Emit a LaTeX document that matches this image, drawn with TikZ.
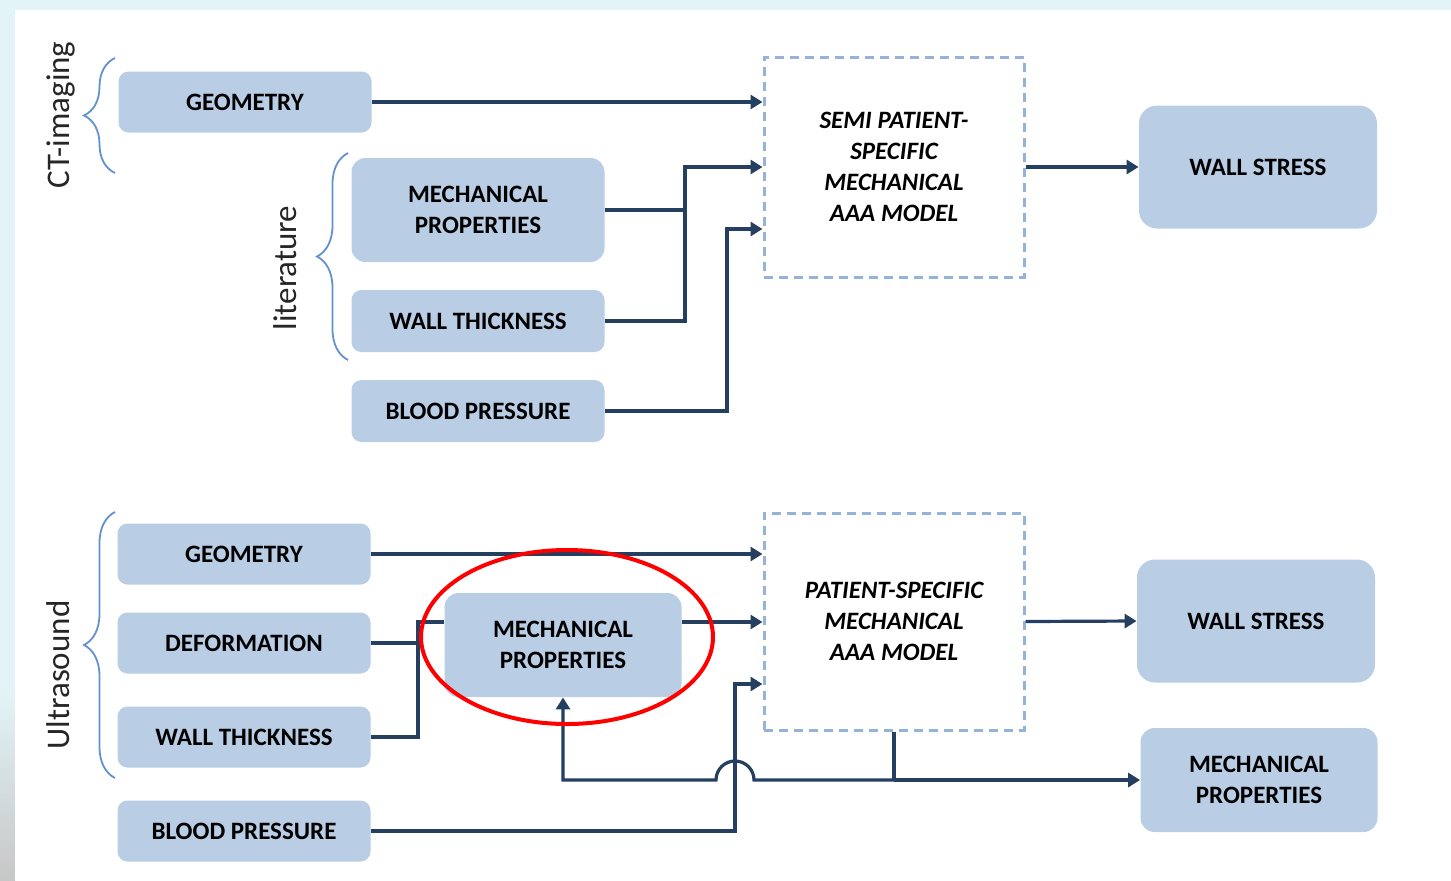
\documentclass[tikz,border=0pt]{standalone}
\usepackage{fontspec}
\setmainfont{Carlito}
\usepackage[dvipsnames]{xcolor}
\usetikzlibrary{arrows.meta,decorations.pathreplacing}
\definecolor{boxblue}{HTML}{B9CDE5}
\definecolor{linenavy}{HTML}{243F60}
\definecolor{dashblue}{HTML}{95B3D7}
\definecolor{braceblue}{HTML}{6391CF}
\definecolor{bgcyan}{HTML}{E2F4F8}

\begin{document}
\begin{tikzpicture}[x=0.5pt,y=-0.5pt,>={Triangle[length=6pt,width=7pt]},
  main node/.style={rectangle,rounded corners=5pt,fill=boxblue,align=center,minimum width=126.5pt,minimum height=30.5pt,inner sep=2pt,font=\fontsize{12.5}{15.5}\selectfont\bfseries,text=black},
  big node/.style={main node,rounded corners=7pt,minimum height=52pt},
  out node/.style={main node,rounded corners=9pt,minimum width=119pt,minimum height=61.5pt},
  model node/.style={rectangle,draw=dashblue,dash pattern=on 4.5pt off 3pt,line width=1.5pt,minimum width=130pt,align=center,font=\fontsize{12.5}{15.5}\selectfont\bfseries\itshape,text=black},
  side label/.style={rotate=90,inner sep=0pt,font=\fontsize{16.5}{18}\selectfont,text=black!85},
  group brace/.style={draw=braceblue,line width=0.9pt,decorate,decoration={brace,amplitude=15.5pt}},
  link/.style={draw=linenavy,line width=1.6pt}]
            \useasboundingbox (0,0) rectangle (1451,880);
            \fill[bgcyan] (0,0) rectangle (1451,880);
            \shade[top color=bgcyan,bottom color=black!22] (0,690) rectangle (15,880);
            \fill[white] (15,10) rectangle (1451,880);

            \node[main node] (1) at (245,102) {GEOMETRY};
            \node[big node] (2) at (478,210) {MECHANICAL\\PROPERTIES};
            \node[main node,minimum height=31pt] (3) at (478,321) {WALL THICKNESS};
            \node[main node,minimum height=31pt] (4) at (478,411) {BLOOD PRESSURE};
            \node[model node,minimum height=110pt] (5) at (894,167) {SEMI PATIENT-\\SPECIFIC\\MECHANICAL\\AAA MODEL};
            \node[out node] (6) at (1258,167) {WALL STRESS};

            \node[main node] (7) at (244,554) {GEOMETRY};
            \node[main node] (8) at (244,643) {DEFORMATION};
            \node[main node] (9) at (244,737) {WALL THICKNESS};
            \node[main node] (10) at (244,831) {BLOOD PRESSURE};
            \node[big node,minimum width=118.5pt] (11) at (563,645) {MECHANICAL\\PROPERTIES};
            \node[model node,minimum height=108.5pt] (12) at (894,621.5) {PATIENT-SPECIFIC\\MECHANICAL\\AAA MODEL};
            \node[out node] (13) at (1256,621) {WALL STRESS};
            \node[big node,minimum width=118.5pt] (14) at (1259,780) {MECHANICAL\\PROPERTIES};

            \node[side label] (ct) at (61,115) {CT-imaging};
            \node[side label] (lit) at (285,268) {literature};
            \node[side label] (us) at (58.5,675) {Ultrasound};

            \draw[group brace] (115,173) -- (115,58);
            \draw[group brace] (348,360) -- (348,153);
            \draw[group brace] (115,778) -- (115,512);

            \coordinate (a) at (685,167);
            \coordinate (b) at (727,229);
            \coordinate (c) at (418,622);
            \coordinate (d) at (735,684);
            \coordinate (e) at (12.south |- 14.west);
            \coordinate (hop) at (d |- e);

            \draw[link,->] (1.east) -- (1.east -| 5.west);
            \draw[link] (2.east) -- (2.east -| a);
            \draw[link,->] (3.east) -| (a) -- (5.west);
            \draw[link,->] (4.east) -| (b) -- (b -| 5.west);
            \draw[link,->] (5.east) -- (6.west);

            \draw[link,->] (7.east) -- (7.east -| 12.west);
            \draw[link] (8.east) -- (8.east -| c);
            \draw[link] (9.east) -| (c) -- (c -| 11.west);
            \draw[link,->] (c -| 11.east) -- (c -| 12.west);
            \draw[link,->] (10.east) -| (d) -- (d -| 12.west);
            \draw[link,->] (12.east) -- (13.west);
            \draw[link] (12.south) -- (e);
            \draw[link,->] (e) -- (14.west);
            \draw[link,->] (e) -- ([xshift=9.5pt]hop) arc[start angle=0,end angle=180,radius=9.5pt] -- (11.south |- hop) -- (11.south);

            \draw[red,line width=2pt] (567,637) ellipse [x radius=73pt,y radius=43.5pt];
        \end{tikzpicture}
\end{document}
